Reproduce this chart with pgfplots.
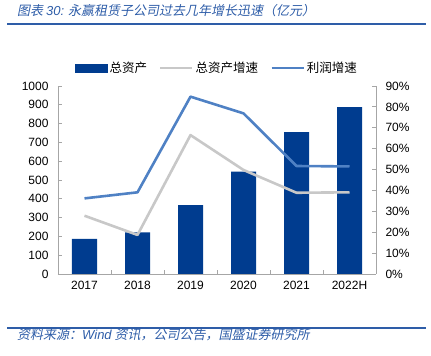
\documentclass[border=0pt]{standalone}
\usepackage{pgfplots}
\pgfplotsset{compat=1.18}
\usepackage{fontspec}
\setmainfont{Liberation Sans}
\newfontfamily\cjk{Noto Sans CJK SC}
\newfontfamily\cjkit[FakeSlant=0.2]{Noto Sans CJK SC}
\definecolor{barblue}{HTML}{003C8F}
\definecolor{lineblue}{HTML}{4F81C4}
\definecolor{linegray}{HTML}{C8C8C8}
\definecolor{titleblue}{HTML}{2E5DA8}
\definecolor{axgray}{HTML}{A6A6A6}
\begin{document}
\begin{tikzpicture}[x=1pt,y=1pt]
\useasboundingbox (0,0) rectangle (431,356);
\node[anchor=west, inner sep=0, text=titleblue, font=\fontsize{13}{15}\cjkit] at (17,345) {图表 {\normalfont\itshape 30:}\hspace{4pt}永赢租赁子公司过去几年增长迅速（亿元）};
\draw[titleblue, line width=2pt] (7,332) -- (426,332);
\draw[titleblue, line width=2pt] (7,28) -- (426,28);
\node[anchor=west, inner sep=0, text=titleblue, font=\fontsize{13}{15}\cjkit] at (17,21) {资料来源：{\normalfont\itshape Wind} 资讯，公司公告，国盛证券研究所};

\begin{axis}[
  at={(58pt,82pt)}, anchor=south west,
  width=318pt, height=188pt, scale only axis,
  xmin=-0.5, xmax=5.5, ymin=0, ymax=1000,
  axis y line*=left, axis x line*=bottom,
  axis line style={axgray, line width=0.8pt},
  tick style={axgray, line width=0.8pt},
  tick align=inside, major tick length=4pt,
  xtick={-0.5,0.5,...,5.5},
  xticklabels={2017,2018,2019,2020,2021,2022H},
  x tick label as interval,
  ytick={0,100,...,1000},
  yticklabels={0,100,200,300,400,500,600,700,800,900,1000},
  ticklabel style={font=\fontsize{12}{14}\selectfont, text=black},
  xticklabel style={yshift=-4pt},
  yticklabel style={xshift=-6pt},
  clip=false,
]
\addplot[ybar, bar width=25pt, fill=barblue, draw=none] coordinates {
  (0,187) (1,222) (2,367) (3,544) (4,754) (5,887)
};
\end{axis}

\begin{axis}[
  at={(58pt,82pt)}, anchor=south west,
  width=318pt, height=188pt, scale only axis,
  xmin=-0.5, xmax=5.5, ymin=0, ymax=90,
  axis y line*=right, axis x line=none,
  axis line style={axgray, line width=0.8pt},
  tick style={axgray, line width=0.8pt},
  tick align=inside, major tick length=4pt,
  ytick={0,10,...,90},
  yticklabels={0\%,10\%,20\%,30\%,40\%,50\%,60\%,70\%,80\%,90\%},
  ticklabel style={font=\fontsize{12}{14}\selectfont, text=black},
  yticklabel style={xshift=6pt},
  clip=false,
  legend columns=3,
  legend style={at={(0.0535,1.096)}, anchor=west, draw=none, fill=none,
    inner sep=0pt, font=\fontsize{12.5}{14}\cjk,
    /tikz/every even column/.append style={column sep=10pt}},
  legend cell align=left,
]
\addlegendimage{legend image code/.code={\fill[barblue] (0pt,-4pt) rectangle (32pt,4pt);}}
\addlegendentry{总资产}
\addplot[linegray, line width=2.6pt, line join=round,
  legend image code/.code={\draw[linegray, line width=2.6pt] (0pt,0pt) -- (32pt,0pt);}] coordinates {
  (0,27.9) (1,18.7) (2,66.5) (3,49.8) (4,38.9) (5,39.1)
};
\addlegendentry{总资产增速}
\addplot[lineblue, line width=2.6pt, line join=round,
  legend image code/.code={\draw[lineblue, line width=2.6pt] (0pt,0pt) -- (32pt,0pt);}] coordinates {
  (0,36.2) (1,39.1) (2,84.9) (3,76.9) (4,51.7) (5,51.5)
};
\addlegendentry{利润增速}
\end{axis}
\end{tikzpicture}
\end{document}
